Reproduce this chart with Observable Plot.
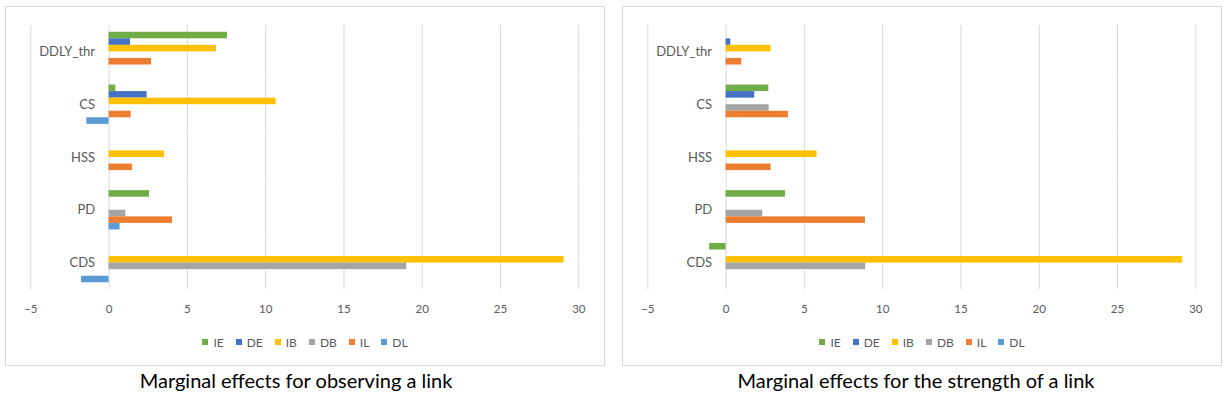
<!DOCTYPE html>
<html>
<head>
<meta charset="utf-8">
<script src="https://cdn.jsdelivr.net/npm/d3@7"></script>
<script src="https://cdn.jsdelivr.net/npm/@observablehq/plot@0.6"></script>
<style>
  html, body { margin: 0; padding: 0; background: #fff; }
  body { width: 1225px; height: 396px; position: relative; overflow: hidden; font-family: Lato, "Open Sans", sans-serif; }
  .panel { position: absolute; top: 6px; width: 598px; height: 358px; border: 1px solid #d9d9d9; background: #fff; }
  .panel svg { position: absolute; left: 0; top: 0; }
  .legend { position: absolute; left: 0; width: 100%; top: 328px; height: 14px; display: flex; justify-content: center; align-items: center; font-size: 12px; color: #595959; }
  .legend .item { display: flex; align-items: center; margin: 0 6px; }
  .legend .sw { width: 6px; height: 6px; margin-right: 5px; }
  .title { position: absolute; top: 368px; width: 600px; text-align: center; font-size: 20px; line-height: 24px; color: #000; }
</style>
</head>
<body>
<div id="p1" class="panel" style="left:5px"></div>
<div id="p2" class="panel" style="left:622px"></div>
<div id="t1" class="title" style="left:-4px"></div>
<div id="t2" class="title" style="left:616px"></div>
<script>
const categories = ["DDLY_thr", "CS", "HSS", "PD", "CDS"];
const series = ["IE", "DE", "IB", "DB", "IL", "DL"];
const colors = ["#70AD47", "#4472C4", "#FFC000", "#A5A5A5", "#ED7D31", "#5B9BD5"];
const xTicks = [-5, 0, 5, 10, 15, 20, 25, 30];
const titles = ["Marginal effects for observing a link", "Marginal effects for the strength of a link"];

// values per series, in category order: DDLY_thr, CS, HSS, PD, CDS
const observeIE = [7.56, 0.43, 0, 2.58, 0];
const observeDE = [1.37, 2.43, 0, 0, 0];
const observeIB = [6.86, 10.67, 3.54, 0, 29.06];
const observeDB = [0, 0, 0, 1.07, 19.01];
const observeIL = [2.71, 1.41, 1.49, 4.05, 0];
const observeDL = [0, -1.42, 0, 0.70, -1.76];

const strengthIE = [0, 2.73, 0, 3.79, -1.05];
const strengthDE = [0.30, 1.83, 0, 0, 0];
const strengthIB = [2.87, 0, 5.81, 0, 29.16];
const strengthDB = [0, 2.75, 0, 2.34, 8.92];
const strengthIL = [1.00, 3.98, 2.87, 8.90, 0];
const strengthDL = [0, 0, 0, 0, 0];

function tidy(arrays) {
  const rows = [];
  series.forEach((s, i) => {
    categories.forEach((c, j) => {
      const v = arrays[i][j];
      if (v !== 0) rows.push({cat: c, series: s, value: v});
    });
  });
  return rows;
}

function chart(rows) {
  return Plot.plot({
    width: 598,
    height: 310,
    marginLeft: 24.3,
    marginRight: 25.7,
    marginTop: 18,
    marginBottom: 28,
    style: {fontFamily: "Lato, 'Open Sans', sans-serif", fontSize: "11.5px", color: "#595959", background: "transparent"},
    x: {domain: [-5, 30], ticks: xTicks, tickSize: 0, tickPadding: 15, label: null},
    y: {domain: series, axis: null, paddingInner: 0, paddingOuter: 1.03, round: false},
    fy: {domain: categories, axis: null, padding: 0, round: false},
    color: {domain: series, range: colors},
    marks: [
      Plot.gridX(xTicks, {stroke: "#d9d9d9", strokeOpacity: 1, strokeWidth: 1}),
      Plot.barX(rows, {fy: "cat", y: "series", x: "value", fill: "series"}),
      Plot.text(categories, {fy: d => d, x: () => 0, text: d => d, textAnchor: "end", dx: -14, fontSize: 13, fill: "#595959"})
    ]
  });
}

function legend() {
  const div = document.createElement("div");
  div.className = "legend";
  series.forEach((s, i) => {
    const item = document.createElement("div");
    item.className = "item";
    const sw = document.createElement("div");
    sw.className = "sw";
    sw.style.background = colors[i];
    const lab = document.createElement("span");
    lab.textContent = s;
    item.appendChild(sw);
    item.appendChild(lab);
    div.appendChild(item);
  });
  return div;
}

const p1 = document.getElementById("p1");
p1.appendChild(chart(tidy([observeIE, observeDE, observeIB, observeDB, observeIL, observeDL])));
p1.appendChild(legend());
const p2 = document.getElementById("p2");
p2.appendChild(chart(tidy([strengthIE, strengthDE, strengthIB, strengthDB, strengthIL, strengthDL])));
p2.appendChild(legend());
document.getElementById("t1").textContent = titles[0];
document.getElementById("t2").textContent = titles[1];
</script>
</body>
</html>
